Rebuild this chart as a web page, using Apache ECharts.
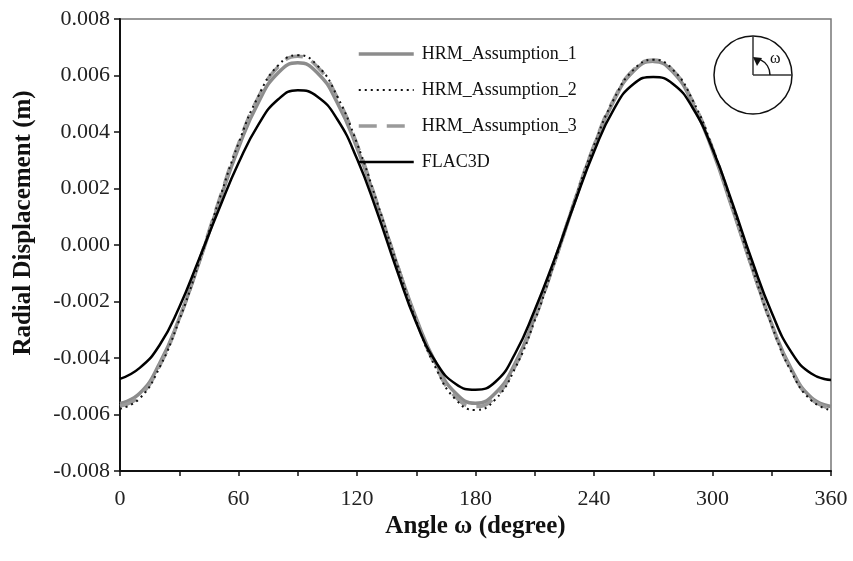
<!DOCTYPE html>
<html>
<head>
<meta charset="utf-8">
<title>Radial displacement vs angle</title>
<script src="https://cdn.jsdelivr.net/npm/echarts@6/dist/echarts.min.js"></script>
<style>
  html, body { margin: 0; padding: 0; background: #fff; }
  #chart { width: 853px; height: 561px; }
</style>
</head>
<body>
<div id="chart"></div>
<script>
// angles in degrees, displacements in mm (converted to m below)
const angles = [0, 10, 20, 30, 40, 50, 60, 70, 80, 90, 100, 110, 120, 130, 140, 150, 160, 170, 180,
  190, 200, 210, 220, 230, 240, 250, 260, 270, 280, 290, 300, 310, 320, 330, 340, 350, 360];

const hrm1 = [-5.61, -5.25, -4.20, -2.60, -0.63, 1.47, 3.44, 5.04, 6.09, 6.45, 6.09, 5.04, 3.44, 1.47, -0.63, -2.60, -4.20, -5.25, -5.60,
  -5.25, -4.20, -2.55, -0.60, 1.50, 3.50, 5.10, 6.15, 6.50, 6.12, 5.00, 3.35, 1.30, -0.80, -2.80, -4.40, -5.40, -5.72];
const hrm2 = [-5.80, -5.43, -4.34, -2.66, -0.63, 1.55, 3.60, 5.26, 6.35, 6.72, 6.35, 5.26, 3.60, 1.55, -0.62, -2.68, -4.37, -5.47, -5.84,
  -5.47, -4.37, -2.68, -0.62, 1.52, 3.52, 5.15, 6.20, 6.56, 6.20, 5.12, 3.45, 1.38, -0.78, -2.85, -4.50, -5.50, -5.85];
const hrm3 = [-5.70, -5.35, -4.28, -2.62, -0.60, 1.55, 3.58, 5.22, 6.30, 6.68, 6.30, 5.22, 3.56, 1.52, -0.62, -2.65, -4.30, -5.38, -5.72,
  -5.38, -4.30, -2.62, -0.60, 1.52, 3.52, 5.15, 6.20, 6.55, 6.18, 5.08, 3.42, 1.35, -0.80, -2.83, -4.45, -5.45, -5.78];
const flac3d = [-4.74, -4.35, -3.55, -2.20, -0.50, 1.25, 2.90, 4.25, 5.15, 5.48, 5.25, 4.45, 3.05, 1.20, -0.85, -2.75, -4.15, -4.92, -5.12,
  -4.85, -3.85, -2.30, -0.50, 1.45, 3.30, 4.80, 5.70, 5.95, 5.70, 4.85, 3.40, 1.50, -0.55, -2.40, -3.80, -4.55, -4.78];

const seriesNames = ['HRM_Assumption_1', 'HRM_Assumption_2', 'HRM_Assumption_3', 'FLAC3D'];

const toPairs = (vals) => angles.map((a, i) => [a, vals[i] / 1000]);

const serif = 'Liberation Serif';

const chart = echarts.init(document.getElementById('chart'));

chart.setOption({
  animation: false,
  backgroundColor: '#fff',
  grid: {
    left: 120, right: 22, top: 19, bottom: 90,
    show: true, borderColor: '#777', borderWidth: 1.5
  },
  legend: {
    orient: 'vertical',
    left: 352, top: 40,
    itemWidth: 55, itemHeight: 14, itemGap: 18,
    data: [
      { name: seriesNames[0], lineStyle: { width: 3.5 } },
      { name: seriesNames[1], lineStyle: { width: 2 } },
      { name: seriesNames[2], lineStyle: { width: 3.5 } },
      { name: seriesNames[3], lineStyle: { width: 2.5 } }
    ],
    itemStyle: { opacity: 0 },
    textStyle: { fontFamily: serif, fontSize: 18, color: '#111', padding: [0, 0, 0, 3] }
  },
  xAxis: {
    type: 'value',
    min: 0, max: 360, interval: 30,
    name: 'Angle ω (degree)',
    nameLocation: 'middle',
    nameGap: 43,
    nameMoveOverlap: false,
    nameTextStyle: { fontFamily: serif, fontSize: 25, fontWeight: 'bold', color: '#111' },
    axisLine: { onZero: false, lineStyle: { color: '#111', width: 2 } },
    axisTick: { length: 5, lineStyle: { color: '#111', width: 1.5 } },
    axisLabel: {
      fontFamily: serif, fontSize: 22, color: '#222', margin: 17,
      formatter: (v) => (v % 60 === 0 ? String(v) : '')
    },
    splitLine: { show: false }
  },
  yAxis: {
    type: 'value',
    min: -0.008, max: 0.008, interval: 0.002,
    name: 'Radial Displacement (m)',
    nameLocation: 'middle',
    nameGap: 84,
    nameTextStyle: { fontFamily: serif, fontSize: 25, fontWeight: 'bold', color: '#111', padding: [0, 0, 0, 44] },
    axisLine: { show: true, onZero: false, lineStyle: { color: '#111', width: 2 } },
    axisTick: { show: true, length: 6, lineStyle: { color: '#111', width: 1.5 } },
    axisLabel: {
      fontFamily: serif, fontSize: 22, color: '#222', margin: 10,
      formatter: (v) => (Math.abs(v) < 1e-9 ? '0.000' : v.toFixed(3))
    },
    splitLine: { show: false }
  },
  series: [
    {
      name: seriesNames[0], type: 'line', smooth: true, symbol: 'none',
      data: toPairs(hrm1), z: 2,
      color: '#8c8c8c',
      lineStyle: { color: '#8c8c8c', width: 3.5 }
    },
    {
      name: seriesNames[1], type: 'line', smooth: true, symbol: 'none',
      data: toPairs(hrm2), z: 4,
      color: '#111',
      lineStyle: { color: '#111', width: 2, type: [2, 4] }
    },
    {
      name: seriesNames[2], type: 'line', smooth: true, symbol: 'none',
      data: toPairs(hrm3), z: 3,
      color: '#9a9a9a',
      lineStyle: { color: '#9a9a9a', width: 3.5, type: [18, 10] }
    },
    {
      name: seriesNames[3], type: 'line', smooth: true, symbol: 'none',
      data: toPairs(flac3d), z: 5,
      color: '#000',
      lineStyle: { color: '#000', width: 2.5 }
    }
  ],
  // small sketch of the angle definition, top right
  graphic: [
    { type: 'circle', shape: { cx: 753, cy: 75, r: 39 }, style: { fill: '#fff', stroke: '#111', lineWidth: 1.5 } },
    { type: 'line', shape: { x1: 753, y1: 36, x2: 753, y2: 75 }, style: { stroke: '#333', lineWidth: 1.5 } },
    { type: 'line', shape: { x1: 753, y1: 75, x2: 792, y2: 75 }, style: { stroke: '#333', lineWidth: 1.5 } },
    { type: 'arc', shape: { cx: 753, cy: 75, r: 17, startAngle: -Math.PI * 0.36, endAngle: 0, clockwise: true }, style: { stroke: '#111', lineWidth: 1.5, fill: null } },
    { type: 'polygon', shape: { points: [[753, 57], [762, 58], [757, 66]] }, style: { fill: '#111' } },
    { type: 'text', x: 770, y: 51, style: { text: 'ω', font: '16px "Liberation Serif"', fill: '#111' } }
  ]
});
</script>
</body>
</html>
